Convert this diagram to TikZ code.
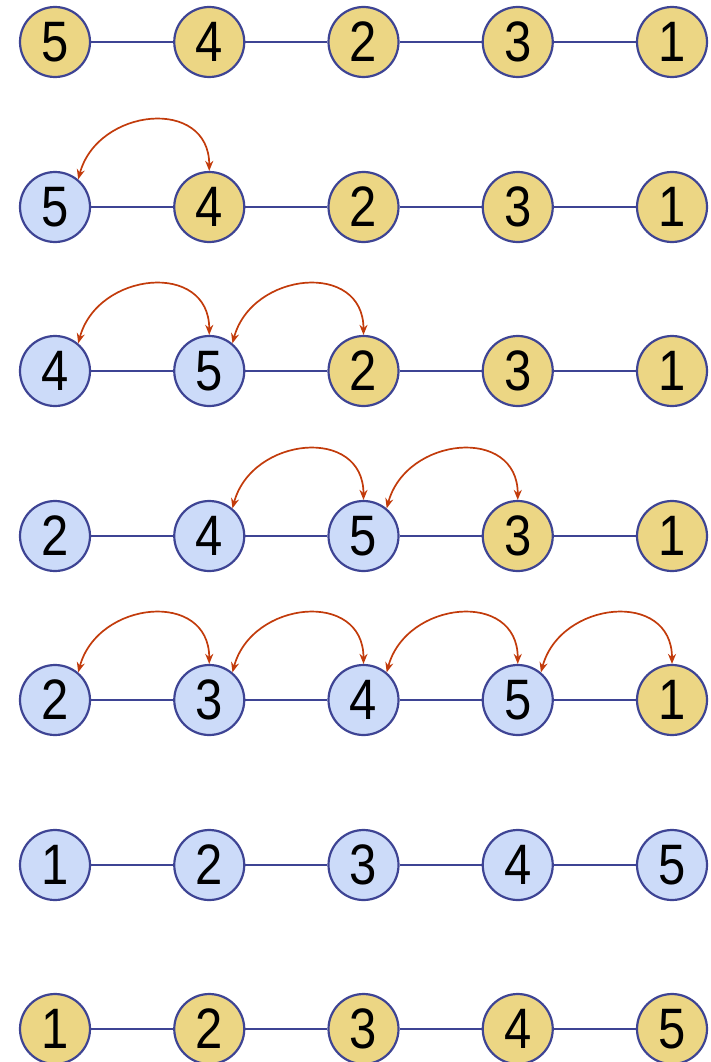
\documentclass[tikz,border=0pt]{standalone}
\usepackage{fontspec}
\setmainfont{Liberation Sans}[FakeStretch=0.86]
\usepackage{xcolor}
\usepackage{tikz}
\usetikzlibrary{arrows.meta}

\definecolor{sand}{HTML}{ECD684}
\definecolor{sky}{HTML}{CCDBF9}
\definecolor{ink}{HTML}{3E4494}
\definecolor{rust}{HTML}{C23B0B}

\begin{document}
\begin{tikzpicture}[x=1pt,y=1pt,inner sep=0pt,
  key/.style={circle,minimum size=70pt,line width=2.2pt,draw=ink,
    font=\fontsize{57}{57}\selectfont},
  Y/.style={key,fill=sand},
  B/.style={key,fill=sky},
  link/.style={ink,line width=2.6pt},
  hop/.style={rust,line width=1.7pt,{Stealth[length=10pt,width=8pt]}-{Stealth[length=10pt,width=8pt]},
    out=75,in=90,looseness=1.45}]
\useasboundingbox (0,0) rectangle (711,-1062);

% one row per pass, value/colour of each key
\foreach \r/\y/\row in {1/42/{5/Y,4/Y,2/Y,3/Y,1/Y},
                        2/207/{5/B,4/Y,2/Y,3/Y,1/Y},
                        3/371/{4/B,5/B,2/Y,3/Y,1/Y},
                        4/536/{2/B,4/B,5/B,3/Y,1/Y},
                        5/700/{2/B,3/B,4/B,5/B,1/Y},
                        6/865/{1/B,2/B,3/B,4/B,5/B},
                        7/1029/{1/Y,2/Y,3/Y,4/Y,5/Y}}{
  \foreach \v/\s [count=\c] in \row
    \node[\s] (n-\r-\c) at (55+154.25*\c-154.25,-\y) {\v};
  \foreach \c in {1,...,4}{
    \pgfmathtruncatemacro\nx{\c+1}
    \draw[link] (n-\r-\c) -- (n-\r-\nx);
  }
}

% swaps
\draw[hop] (n-2-1.50) to (n-2-2.90);
\draw[hop] (n-3-1.50) to (n-3-2.90);
\draw[hop] (n-3-2.50) to (n-3-3.90);
\draw[hop] (n-4-2.50) to (n-4-3.90);
\draw[hop] (n-4-3.50) to (n-4-4.90);
\draw[hop] (n-5-1.50) to (n-5-2.90);
\draw[hop] (n-5-2.50) to (n-5-3.90);
\draw[hop] (n-5-3.50) to (n-5-4.90);
\draw[hop] (n-5-4.50) to (n-5-5.90);
\end{tikzpicture}
\end{document}
